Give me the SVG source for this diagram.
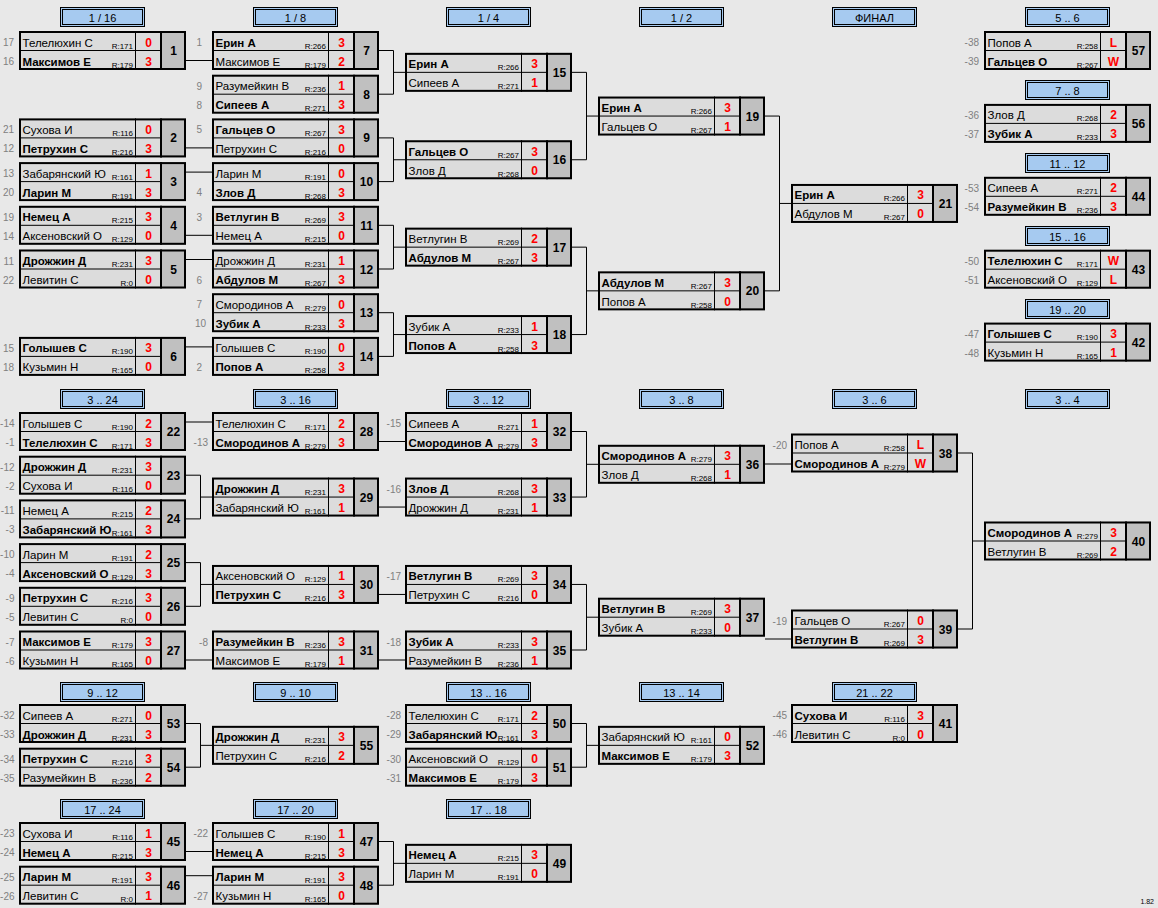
<svg xmlns="http://www.w3.org/2000/svg" xmlns:xlink="http://www.w3.org/1999/xlink" width="1158" height="908" viewBox="0 0 1158 908">
<style>
.n{font-family:"Liberation Sans",Arial,sans-serif;font-size:11.5px;fill:#000}
.b{font-weight:bold}
.r{font-family:"Liberation Sans",Arial,sans-serif;font-size:8px;text-anchor:end;fill:#000}
.s{font-family:"Liberation Sans",Arial,sans-serif;font-size:12px;font-weight:bold;fill:#f00;text-anchor:middle}
.mn{font-family:"Liberation Sans",Arial,sans-serif;font-size:12px;font-weight:bold;fill:#000;text-anchor:middle}
.sd{font-family:"Liberation Sans",Arial,sans-serif;font-size:10px;fill:#808080;text-anchor:end}
.h{font-family:"Liberation Sans",Arial,sans-serif;font-size:11px;fill:#000;text-anchor:middle}
.ver{font-family:"Liberation Sans",Arial,sans-serif;font-size:7px;fill:#000;text-anchor:end}
.cn{fill:none;stroke:#000;stroke-width:1}
</style>
<defs>
<g id="box">
<rect x="0" y="0" width="142" height="39" fill="#dcdcdc"/>
<rect x="142" y="0" width="25" height="39" fill="#c0c0c0"/>
<path d="M0 19.5H142M116.5 0V39" stroke="#000" stroke-width="1" fill="none"/>
<path d="M142 0V39" stroke="#000" stroke-width="2" fill="none"/>
<rect x="1" y="1" width="165" height="37" fill="none" stroke="#000" stroke-width="2"/>
</g>
<g id="hdr">
<rect x="0.5" y="0.5" width="84" height="19" fill="#a6caf0" stroke="#000"/>
<rect x="2.5" y="2.5" width="80" height="15" fill="none" stroke="#000"/>
</g>
</defs>
<rect width="1158" height="908" fill="#e8e8e8"/>

<g id="headers">
<g transform="translate(60,7)"><use href="#hdr"/><text class="h" x="42.5" y="14.5">1 / 16</text></g>
<g transform="translate(253,7)"><use href="#hdr"/><text class="h" x="42.5" y="14.5">1 / 8</text></g>
<g transform="translate(446,7)"><use href="#hdr"/><text class="h" x="42.5" y="14.5">1 / 4</text></g>
<g transform="translate(639,7)"><use href="#hdr"/><text class="h" x="42.5" y="14.5">1 / 2</text></g>
<g transform="translate(832,7)"><use href="#hdr"/><text class="h" x="42.5" y="14.5">ФИНАЛ</text></g>
<g transform="translate(1025,7)"><use href="#hdr"/><text class="h" x="42.5" y="14.5">5 .. 6</text></g>
<g transform="translate(1025,80)"><use href="#hdr"/><text class="h" x="42.5" y="14.5">7 .. 8</text></g>
<g transform="translate(1025,153)"><use href="#hdr"/><text class="h" x="42.5" y="14.5">11 .. 12</text></g>
<g transform="translate(1025,226)"><use href="#hdr"/><text class="h" x="42.5" y="14.5">15 .. 16</text></g>
<g transform="translate(1025,299)"><use href="#hdr"/><text class="h" x="42.5" y="14.5">19 .. 20</text></g>
<g transform="translate(60,389)"><use href="#hdr"/><text class="h" x="42.5" y="14.5">3 .. 24</text></g>
<g transform="translate(253,389)"><use href="#hdr"/><text class="h" x="42.5" y="14.5">3 .. 16</text></g>
<g transform="translate(446,389)"><use href="#hdr"/><text class="h" x="42.5" y="14.5">3 .. 12</text></g>
<g transform="translate(639,389)"><use href="#hdr"/><text class="h" x="42.5" y="14.5">3 .. 8</text></g>
<g transform="translate(832,389)"><use href="#hdr"/><text class="h" x="42.5" y="14.5">3 .. 6</text></g>
<g transform="translate(1025,389)"><use href="#hdr"/><text class="h" x="42.5" y="14.5">3 .. 4</text></g>
<g transform="translate(60,682)"><use href="#hdr"/><text class="h" x="42.5" y="14.5">9 .. 12</text></g>
<g transform="translate(253,682)"><use href="#hdr"/><text class="h" x="42.5" y="14.5">9 .. 10</text></g>
<g transform="translate(446,682)"><use href="#hdr"/><text class="h" x="42.5" y="14.5">13 .. 16</text></g>
<g transform="translate(639,682)"><use href="#hdr"/><text class="h" x="42.5" y="14.5">13 .. 14</text></g>
<g transform="translate(832,682)"><use href="#hdr"/><text class="h" x="42.5" y="14.5">21 .. 22</text></g>
<g transform="translate(60,799)"><use href="#hdr"/><text class="h" x="42.5" y="14.5">17 .. 24</text></g>
<g transform="translate(253,799)"><use href="#hdr"/><text class="h" x="42.5" y="14.5">17 .. 20</text></g>
<g transform="translate(446,799)"><use href="#hdr"/><text class="h" x="42.5" y="14.5">17 .. 18</text></g>
</g>

<g id="connectors" class="cn">
<path d="M186 60.5H212M186 147.9H212M186 172.1H212M186 235.3H212M186 259.5H212M186 346.9H212"/>
<path d="M379 50.5H393.5V94.2H379M393.5 72.35H405"/>
<path d="M379 137.9H393.5V181.6H379M393.5 159.75H405"/>
<path d="M379 225.3H393.5V269H379M393.5 247.15H405"/>
<path d="M379 312.7H393.5V356.4H379M393.5 334.55H405"/>
<path d="M572 72.35H586.5V159.75H572M586.5 116.05H598"/>
<path d="M572 247.15H586.5V334.55H572M586.5 290.85H598"/>
<path d="M765 116.05H779.5V290.85H765M779.5 203.45H791"/>
<path d="M186 422H212M186 660H212"/>
<path d="M186 475.2H200.5V518.9H186M200.5 497.05H212"/>
<path d="M186 562.6H200.5V606.3H186M200.5 584.45H212"/>
<path d="M379 441.5H405M379 507.05H405M379 594.45H405M379 660H405"/>
<path d="M572 431.5H586.5V497.05H572M586.5 464.3H598"/>
<path d="M572 584.45H586.5V650H572M586.5 617.2H598"/>
<path d="M765 464H791"/>
<path d="M765 639H791"/>
<path d="M958 453H972.5V629H958M972.5 541H984"/>
<path d="M186 723.5H200.5V767.2H186M200.5 745.35H212"/>
<path d="M572 723.5H586.5V767.2H572M586.5 745.35H598"/>
<path d="M186 851.5H212M186 875.7H212"/>
<path d="M379 841.5H393.5V885.2H379M393.5 863.35H405"/>
</g>

<g id="m1" transform="translate(19,31)"><use href="#box"/><text class="sd" x="-5" y="15">17</text><text class="sd" x="-5" y="34">16</text><text class="n" x="3.5" y="15.5">Телелюхин С</text><text class="n b" x="3.5" y="34.5">Максимов Е</text><text class="r" x="114" y="17.5">R:171</text><text class="r" x="114" y="36.5">R:179</text><text class="s" x="129.5" y="15.5">0</text><text class="s" x="129.5" y="34.5">3</text><text class="mn" x="154.5" y="24">1</text></g>
<g id="m2" transform="translate(19,118.4)"><use href="#box"/><text class="sd" x="-5" y="15">21</text><text class="sd" x="-5" y="34">12</text><text class="n" x="3.5" y="15.5">Сухова И</text><text class="n b" x="3.5" y="34.5">Петрухин С</text><text class="r" x="114" y="17.5">R:116</text><text class="r" x="114" y="36.5">R:216</text><text class="s" x="129.5" y="15.5">0</text><text class="s" x="129.5" y="34.5">3</text><text class="mn" x="154.5" y="24">2</text></g>
<g id="m3" transform="translate(19,162.1)"><use href="#box"/><text class="sd" x="-5" y="15">13</text><text class="sd" x="-5" y="34">20</text><text class="n" x="3.5" y="15.5">Забарянский Ю</text><text class="n b" x="3.5" y="34.5">Ларин М</text><text class="r" x="114" y="17.5">R:161</text><text class="r" x="114" y="36.5">R:191</text><text class="s" x="129.5" y="15.5">1</text><text class="s" x="129.5" y="34.5">3</text><text class="mn" x="154.5" y="24">3</text></g>
<g id="m4" transform="translate(19,205.8)"><use href="#box"/><text class="sd" x="-5" y="15">19</text><text class="sd" x="-5" y="34">14</text><text class="n b" x="3.5" y="15.5">Немец А</text><text class="n" x="3.5" y="34.5">Аксеновский О</text><text class="r" x="114" y="17.5">R:215</text><text class="r" x="114" y="36.5">R:129</text><text class="s" x="129.5" y="15.5">3</text><text class="s" x="129.5" y="34.5">0</text><text class="mn" x="154.5" y="24">4</text></g>
<g id="m5" transform="translate(19,249.5)"><use href="#box"/><text class="sd" x="-5" y="15">11</text><text class="sd" x="-5" y="34">22</text><text class="n b" x="3.5" y="15.5">Дрожжин Д</text><text class="n" x="3.5" y="34.5">Левитин С</text><text class="r" x="114" y="17.5">R:231</text><text class="r" x="114" y="36.5">R:0</text><text class="s" x="129.5" y="15.5">3</text><text class="s" x="129.5" y="34.5">0</text><text class="mn" x="154.5" y="24">5</text></g>
<g id="m6" transform="translate(19,336.9)"><use href="#box"/><text class="sd" x="-5" y="15">15</text><text class="sd" x="-5" y="34">18</text><text class="n b" x="3.5" y="15.5">Голышев С</text><text class="n" x="3.5" y="34.5">Кузьмин Н</text><text class="r" x="114" y="17.5">R:190</text><text class="r" x="114" y="36.5">R:165</text><text class="s" x="129.5" y="15.5">3</text><text class="s" x="129.5" y="34.5">0</text><text class="mn" x="154.5" y="24">6</text></g>

<g id="m7" transform="translate(212,31)"><use href="#box"/><text class="sd" x="-10" y="15">1</text><text class="n b" x="3.5" y="15.5">Ерин А</text><text class="n" x="3.5" y="34.5">Максимов Е</text><text class="r" x="114" y="17.5">R:266</text><text class="r" x="114" y="36.5">R:179</text><text class="s" x="129.5" y="15.5">3</text><text class="s" x="129.5" y="34.5">2</text><text class="mn" x="154.5" y="24">7</text></g>
<g id="m8" transform="translate(212,74.7)"><use href="#box"/><text class="sd" x="-10" y="15">9</text><text class="sd" x="-10" y="34">8</text><text class="n" x="3.5" y="15.5">Разумейкин В</text><text class="n b" x="3.5" y="34.5">Сипеев А</text><text class="r" x="114" y="17.5">R:236</text><text class="r" x="114" y="36.5">R:271</text><text class="s" x="129.5" y="15.5">1</text><text class="s" x="129.5" y="34.5">3</text><text class="mn" x="154.5" y="24">8</text></g>
<g id="m9" transform="translate(212,118.4)"><use href="#box"/><text class="sd" x="-10" y="15">5</text><text class="n b" x="3.5" y="15.5">Гальцев О</text><text class="n" x="3.5" y="34.5">Петрухин С</text><text class="r" x="114" y="17.5">R:267</text><text class="r" x="114" y="36.5">R:216</text><text class="s" x="129.5" y="15.5">3</text><text class="s" x="129.5" y="34.5">0</text><text class="mn" x="154.5" y="24">9</text></g>
<g id="m10" transform="translate(212,162.1)"><use href="#box"/><text class="sd" x="-10" y="34">4</text><text class="n" x="3.5" y="15.5">Ларин М</text><text class="n b" x="3.5" y="34.5">Злов Д</text><text class="r" x="114" y="17.5">R:191</text><text class="r" x="114" y="36.5">R:268</text><text class="s" x="129.5" y="15.5">0</text><text class="s" x="129.5" y="34.5">3</text><text class="mn" x="154.5" y="24">10</text></g>
<g id="m11" transform="translate(212,205.8)"><use href="#box"/><text class="sd" x="-10" y="15">3</text><text class="n b" x="3.5" y="15.5">Ветлугин В</text><text class="n" x="3.5" y="34.5">Немец А</text><text class="r" x="114" y="17.5">R:269</text><text class="r" x="114" y="36.5">R:215</text><text class="s" x="129.5" y="15.5">3</text><text class="s" x="129.5" y="34.5">0</text><text class="mn" x="154.5" y="24">11</text></g>
<g id="m12" transform="translate(212,249.5)"><use href="#box"/><text class="sd" x="-10" y="34">6</text><text class="n" x="3.5" y="15.5">Дрожжин Д</text><text class="n b" x="3.5" y="34.5">Абдулов М</text><text class="r" x="114" y="17.5">R:231</text><text class="r" x="114" y="36.5">R:267</text><text class="s" x="129.5" y="15.5">1</text><text class="s" x="129.5" y="34.5">3</text><text class="mn" x="154.5" y="24">12</text></g>
<g id="m13" transform="translate(212,293.2)"><use href="#box"/><text class="sd" x="-10" y="15">7</text><text class="sd" x="-6" y="34">10</text><text class="n" x="3.5" y="15.5">Смородинов А</text><text class="n b" x="3.5" y="34.5">Зубик А</text><text class="r" x="114" y="17.5">R:279</text><text class="r" x="114" y="36.5">R:233</text><text class="s" x="129.5" y="15.5">0</text><text class="s" x="129.5" y="34.5">3</text><text class="mn" x="154.5" y="24">13</text></g>
<g id="m14" transform="translate(212,336.9)"><use href="#box"/><text class="sd" x="-10" y="34">2</text><text class="n" x="3.5" y="15.5">Голышев С</text><text class="n b" x="3.5" y="34.5">Попов А</text><text class="r" x="114" y="17.5">R:190</text><text class="r" x="114" y="36.5">R:258</text><text class="s" x="129.5" y="15.5">0</text><text class="s" x="129.5" y="34.5">3</text><text class="mn" x="154.5" y="24">14</text></g>

<g id="m15" transform="translate(405,52.85)"><use href="#box"/><text class="n b" x="3.5" y="15.5">Ерин А</text><text class="n" x="3.5" y="34.5">Сипеев А</text><text class="r" x="114" y="17.5">R:266</text><text class="r" x="114" y="36.5">R:271</text><text class="s" x="129.5" y="15.5">3</text><text class="s" x="129.5" y="34.5">1</text><text class="mn" x="154.5" y="24">15</text></g>
<g id="m16" transform="translate(405,140.25)"><use href="#box"/><text class="n b" x="3.5" y="15.5">Гальцев О</text><text class="n" x="3.5" y="34.5">Злов Д</text><text class="r" x="114" y="17.5">R:267</text><text class="r" x="114" y="36.5">R:268</text><text class="s" x="129.5" y="15.5">3</text><text class="s" x="129.5" y="34.5">0</text><text class="mn" x="154.5" y="24">16</text></g>
<g id="m17" transform="translate(405,227.65)"><use href="#box"/><text class="n" x="3.5" y="15.5">Ветлугин В</text><text class="n b" x="3.5" y="34.5">Абдулов М</text><text class="r" x="114" y="17.5">R:269</text><text class="r" x="114" y="36.5">R:267</text><text class="s" x="129.5" y="15.5">2</text><text class="s" x="129.5" y="34.5">3</text><text class="mn" x="154.5" y="24">17</text></g>
<g id="m18" transform="translate(405,315.05)"><use href="#box"/><text class="n" x="3.5" y="15.5">Зубик А</text><text class="n b" x="3.5" y="34.5">Попов А</text><text class="r" x="114" y="17.5">R:233</text><text class="r" x="114" y="36.5">R:258</text><text class="s" x="129.5" y="15.5">1</text><text class="s" x="129.5" y="34.5">3</text><text class="mn" x="154.5" y="24">18</text></g>
<g id="m19" transform="translate(598,96.55)"><use href="#box"/><text class="n b" x="3.5" y="15.5">Ерин А</text><text class="n" x="3.5" y="34.5">Гальцев О</text><text class="r" x="114" y="17.5">R:266</text><text class="r" x="114" y="36.5">R:267</text><text class="s" x="129.5" y="15.5">3</text><text class="s" x="129.5" y="34.5">1</text><text class="mn" x="154.5" y="24">19</text></g>
<g id="m20" transform="translate(598,271.35)"><use href="#box"/><text class="n b" x="3.5" y="15.5">Абдулов М</text><text class="n" x="3.5" y="34.5">Попов А</text><text class="r" x="114" y="17.5">R:267</text><text class="r" x="114" y="36.5">R:258</text><text class="s" x="129.5" y="15.5">3</text><text class="s" x="129.5" y="34.5">0</text><text class="mn" x="154.5" y="24">20</text></g>
<g id="m21" transform="translate(791,183.95)"><use href="#box"/><text class="n b" x="3.5" y="15.5">Ерин А</text><text class="n" x="3.5" y="34.5">Абдулов М</text><text class="r" x="114" y="17.5">R:266</text><text class="r" x="114" y="36.5">R:267</text><text class="s" x="129.5" y="15.5">3</text><text class="s" x="129.5" y="34.5">0</text><text class="mn" x="154.5" y="24">21</text></g>

<g id="m57" transform="translate(984,31)"><use href="#box"/><text class="sd" x="-5" y="15">-38</text><text class="sd" x="-5" y="34">-39</text><text class="n" x="3.5" y="15.5">Попов А</text><text class="n b" x="3.5" y="34.5">Гальцев О</text><text class="r" x="114" y="17.5">R:258</text><text class="r" x="114" y="36.5">R:267</text><text class="s" x="129.5" y="15.5">L</text><text class="s" x="129.5" y="34.5">W</text><text class="mn" x="154.5" y="24">57</text></g>
<g id="m56" transform="translate(984,103.9)"><use href="#box"/><text class="sd" x="-5" y="15">-36</text><text class="sd" x="-5" y="34">-37</text><text class="n" x="3.5" y="15.5">Злов Д</text><text class="n b" x="3.5" y="34.5">Зубик А</text><text class="r" x="114" y="17.5">R:268</text><text class="r" x="114" y="36.5">R:233</text><text class="s" x="129.5" y="15.5">2</text><text class="s" x="129.5" y="34.5">3</text><text class="mn" x="154.5" y="24">56</text></g>
<g id="m44" transform="translate(984,176.8)"><use href="#box"/><text class="sd" x="-5" y="15">-53</text><text class="sd" x="-5" y="34">-54</text><text class="n" x="3.5" y="15.5">Сипеев А</text><text class="n b" x="3.5" y="34.5">Разумейкин В</text><text class="r" x="114" y="17.5">R:271</text><text class="r" x="114" y="36.5">R:236</text><text class="s" x="129.5" y="15.5">2</text><text class="s" x="129.5" y="34.5">3</text><text class="mn" x="154.5" y="24">44</text></g>
<g id="m43" transform="translate(984,249.7)"><use href="#box"/><text class="sd" x="-5" y="15">-50</text><text class="sd" x="-5" y="34">-51</text><text class="n b" x="3.5" y="15.5">Телелюхин С</text><text class="n" x="3.5" y="34.5">Аксеновский О</text><text class="r" x="114" y="17.5">R:171</text><text class="r" x="114" y="36.5">R:129</text><text class="s" x="129.5" y="15.5">W</text><text class="s" x="129.5" y="34.5">L</text><text class="mn" x="154.5" y="24">43</text></g>
<g id="m42" transform="translate(984,322.6)"><use href="#box"/><text class="sd" x="-5" y="15">-47</text><text class="sd" x="-5" y="34">-48</text><text class="n b" x="3.5" y="15.5">Голышев С</text><text class="n" x="3.5" y="34.5">Кузьмин Н</text><text class="r" x="114" y="17.5">R:190</text><text class="r" x="114" y="36.5">R:165</text><text class="s" x="129.5" y="15.5">3</text><text class="s" x="129.5" y="34.5">1</text><text class="mn" x="154.5" y="24">42</text></g>

<g id="m22" transform="translate(19,412)"><use href="#box"/><text class="sd" x="-4.5" y="15">-14</text><text class="sd" x="-4.5" y="34">-1</text><text class="n" x="3.5" y="15.5">Голышев С</text><text class="n b" x="3.5" y="34.5">Телелюхин С</text><text class="r" x="114" y="17.5">R:190</text><text class="r" x="114" y="36.5">R:171</text><text class="s" x="129.5" y="15.5">2</text><text class="s" x="129.5" y="34.5">3</text><text class="mn" x="154.5" y="24">22</text></g>
<g id="m23" transform="translate(19,455.7)"><use href="#box"/><text class="sd" x="-4.5" y="15">-12</text><text class="sd" x="-4.5" y="34">-2</text><text class="n b" x="3.5" y="15.5">Дрожжин Д</text><text class="n" x="3.5" y="34.5">Сухова И</text><text class="r" x="114" y="17.5">R:231</text><text class="r" x="114" y="36.5">R:116</text><text class="s" x="129.5" y="15.5">3</text><text class="s" x="129.5" y="34.5">0</text><text class="mn" x="154.5" y="24">23</text></g>
<g id="m24" transform="translate(19,499.4)"><use href="#box"/><text class="sd" x="-4.5" y="15">-11</text><text class="sd" x="-4.5" y="34">-3</text><text class="n" x="3.5" y="15.5">Немец А</text><text class="n b" x="3.5" y="34.5">Забарянский Ю</text><text class="r" x="114" y="17.5">R:215</text><text class="r" x="114" y="36.5">R:161</text><text class="s" x="129.5" y="15.5">2</text><text class="s" x="129.5" y="34.5">3</text><text class="mn" x="154.5" y="24">24</text></g>
<g id="m25" transform="translate(19,543.1)"><use href="#box"/><text class="sd" x="-4.5" y="15">-10</text><text class="sd" x="-4.5" y="34">-4</text><text class="n" x="3.5" y="15.5">Ларин М</text><text class="n b" x="3.5" y="34.5">Аксеновский О</text><text class="r" x="114" y="17.5">R:191</text><text class="r" x="114" y="36.5">R:129</text><text class="s" x="129.5" y="15.5">2</text><text class="s" x="129.5" y="34.5">3</text><text class="mn" x="154.5" y="24">25</text></g>
<g id="m26" transform="translate(19,586.8)"><use href="#box"/><text class="sd" x="-4.5" y="15">-9</text><text class="sd" x="-4.5" y="34">-5</text><text class="n b" x="3.5" y="15.5">Петрухин С</text><text class="n" x="3.5" y="34.5">Левитин С</text><text class="r" x="114" y="17.5">R:216</text><text class="r" x="114" y="36.5">R:0</text><text class="s" x="129.5" y="15.5">3</text><text class="s" x="129.5" y="34.5">0</text><text class="mn" x="154.5" y="24">26</text></g>
<g id="m27" transform="translate(19,630.5)"><use href="#box"/><text class="sd" x="-4.5" y="15">-7</text><text class="sd" x="-4.5" y="34">-6</text><text class="n b" x="3.5" y="15.5">Максимов Е</text><text class="n" x="3.5" y="34.5">Кузьмин Н</text><text class="r" x="114" y="17.5">R:179</text><text class="r" x="114" y="36.5">R:165</text><text class="s" x="129.5" y="15.5">3</text><text class="s" x="129.5" y="34.5">0</text><text class="mn" x="154.5" y="24">27</text></g>

<g id="m28" transform="translate(212,412)"><use href="#box"/><text class="sd" x="-4" y="34">-13</text><text class="n" x="3.5" y="15.5">Телелюхин С</text><text class="n b" x="3.5" y="34.5">Смородинов А</text><text class="r" x="114" y="17.5">R:171</text><text class="r" x="114" y="36.5">R:279</text><text class="s" x="129.5" y="15.5">2</text><text class="s" x="129.5" y="34.5">3</text><text class="mn" x="154.5" y="24">28</text></g>
<g id="m29" transform="translate(212,477.55)"><use href="#box"/><text class="n b" x="3.5" y="15.5">Дрожжин Д</text><text class="n" x="3.5" y="34.5">Забарянский Ю</text><text class="r" x="114" y="17.5">R:231</text><text class="r" x="114" y="36.5">R:161</text><text class="s" x="129.5" y="15.5">3</text><text class="s" x="129.5" y="34.5">1</text><text class="mn" x="154.5" y="24">29</text></g>
<g id="m30" transform="translate(212,564.95)"><use href="#box"/><text class="n" x="3.5" y="15.5">Аксеновский О</text><text class="n b" x="3.5" y="34.5">Петрухин С</text><text class="r" x="114" y="17.5">R:129</text><text class="r" x="114" y="36.5">R:216</text><text class="s" x="129.5" y="15.5">1</text><text class="s" x="129.5" y="34.5">3</text><text class="mn" x="154.5" y="24">30</text></g>
<g id="m31" transform="translate(212,630.5)"><use href="#box"/><text class="sd" x="-4" y="15">-8</text><text class="n b" x="3.5" y="15.5">Разумейкин В</text><text class="n" x="3.5" y="34.5">Максимов Е</text><text class="r" x="114" y="17.5">R:236</text><text class="r" x="114" y="36.5">R:179</text><text class="s" x="129.5" y="15.5">3</text><text class="s" x="129.5" y="34.5">1</text><text class="mn" x="154.5" y="24">31</text></g>
<g id="m32" transform="translate(405,412)"><use href="#box"/><text class="sd" x="-4" y="15">-15</text><text class="n" x="3.5" y="15.5">Сипеев А</text><text class="n b" x="3.5" y="34.5">Смородинов А</text><text class="r" x="114" y="17.5">R:271</text><text class="r" x="114" y="36.5">R:279</text><text class="s" x="129.5" y="15.5">1</text><text class="s" x="129.5" y="34.5">3</text><text class="mn" x="154.5" y="24">32</text></g>
<g id="m33" transform="translate(405,477.55)"><use href="#box"/><text class="sd" x="-4" y="15">-16</text><text class="n b" x="3.5" y="15.5">Злов Д</text><text class="n" x="3.5" y="34.5">Дрожжин Д</text><text class="r" x="114" y="17.5">R:268</text><text class="r" x="114" y="36.5">R:231</text><text class="s" x="129.5" y="15.5">3</text><text class="s" x="129.5" y="34.5">1</text><text class="mn" x="154.5" y="24">33</text></g>
<g id="m34" transform="translate(405,564.95)"><use href="#box"/><text class="sd" x="-4" y="15">-17</text><text class="n b" x="3.5" y="15.5">Ветлугин В</text><text class="n" x="3.5" y="34.5">Петрухин С</text><text class="r" x="114" y="17.5">R:269</text><text class="r" x="114" y="36.5">R:216</text><text class="s" x="129.5" y="15.5">3</text><text class="s" x="129.5" y="34.5">0</text><text class="mn" x="154.5" y="24">34</text></g>
<g id="m35" transform="translate(405,630.5)"><use href="#box"/><text class="sd" x="-4" y="15">-18</text><text class="n b" x="3.5" y="15.5">Зубик А</text><text class="n" x="3.5" y="34.5">Разумейкин В</text><text class="r" x="114" y="17.5">R:233</text><text class="r" x="114" y="36.5">R:236</text><text class="s" x="129.5" y="15.5">3</text><text class="s" x="129.5" y="34.5">1</text><text class="mn" x="154.5" y="24">35</text></g>
<g id="m36" transform="translate(598,444.8)"><use href="#box"/><text class="n b" x="3.5" y="15.5">Смородинов А</text><text class="n" x="3.5" y="34.5">Злов Д</text><text class="r" x="114" y="17.5">R:279</text><text class="r" x="114" y="36.5">R:268</text><text class="s" x="129.5" y="15.5">3</text><text class="s" x="129.5" y="34.5">1</text><text class="mn" x="154.5" y="24">36</text></g>
<g id="m37" transform="translate(598,597.7)"><use href="#box"/><text class="n b" x="3.5" y="15.5">Ветлугин В</text><text class="n" x="3.5" y="34.5">Зубик А</text><text class="r" x="114" y="17.5">R:269</text><text class="r" x="114" y="36.5">R:233</text><text class="s" x="129.5" y="15.5">3</text><text class="s" x="129.5" y="34.5">0</text><text class="mn" x="154.5" y="24">37</text></g>
<g id="m38" transform="translate(791,433.5)"><use href="#box"/><text class="sd" x="-4" y="15">-20</text><text class="n" x="3.5" y="15.5">Попов А</text><text class="n b" x="3.5" y="34.5">Смородинов А</text><text class="r" x="114" y="17.5">R:258</text><text class="r" x="114" y="36.5">R:279</text><text class="s" x="129.5" y="15.5">L</text><text class="s" x="129.5" y="34.5">W</text><text class="mn" x="154.5" y="24">38</text></g>
<g id="m39" transform="translate(791,609.5)"><use href="#box"/><text class="sd" x="-4" y="15">-19</text><text class="n" x="3.5" y="15.5">Гальцев О</text><text class="n b" x="3.5" y="34.5">Ветлугин В</text><text class="r" x="114" y="17.5">R:267</text><text class="r" x="114" y="36.5">R:269</text><text class="s" x="129.5" y="15.5">0</text><text class="s" x="129.5" y="34.5">3</text><text class="mn" x="154.5" y="24">39</text></g>
<g id="m40" transform="translate(984,521.5)"><use href="#box"/><text class="n b" x="3.5" y="15.5">Смородинов А</text><text class="n" x="3.5" y="34.5">Ветлугин В</text><text class="r" x="114" y="17.5">R:279</text><text class="r" x="114" y="36.5">R:269</text><text class="s" x="129.5" y="15.5">3</text><text class="s" x="129.5" y="34.5">2</text><text class="mn" x="154.5" y="24">40</text></g>

<g id="m53" transform="translate(19,704)"><use href="#box"/><text class="sd" x="-4.5" y="15">-32</text><text class="sd" x="-4.5" y="34">-33</text><text class="n" x="3.5" y="15.5">Сипеев А</text><text class="n b" x="3.5" y="34.5">Дрожжин Д</text><text class="r" x="114" y="17.5">R:271</text><text class="r" x="114" y="36.5">R:231</text><text class="s" x="129.5" y="15.5">0</text><text class="s" x="129.5" y="34.5">3</text><text class="mn" x="154.5" y="24">53</text></g>
<g id="m54" transform="translate(19,747.7)"><use href="#box"/><text class="sd" x="-4.5" y="15">-34</text><text class="sd" x="-4.5" y="34">-35</text><text class="n b" x="3.5" y="15.5">Петрухин С</text><text class="n" x="3.5" y="34.5">Разумейкин В</text><text class="r" x="114" y="17.5">R:216</text><text class="r" x="114" y="36.5">R:236</text><text class="s" x="129.5" y="15.5">3</text><text class="s" x="129.5" y="34.5">2</text><text class="mn" x="154.5" y="24">54</text></g>
<g id="m55" transform="translate(212,725.85)"><use href="#box"/><text class="n b" x="3.5" y="15.5">Дрожжин Д</text><text class="n" x="3.5" y="34.5">Петрухин С</text><text class="r" x="114" y="17.5">R:231</text><text class="r" x="114" y="36.5">R:216</text><text class="s" x="129.5" y="15.5">3</text><text class="s" x="129.5" y="34.5">2</text><text class="mn" x="154.5" y="24">55</text></g>
<g id="m50" transform="translate(405,704)"><use href="#box"/><text class="sd" x="-4" y="15">-28</text><text class="sd" x="-4" y="34">-29</text><text class="n" x="3.5" y="15.5">Телелюхин С</text><text class="n b" x="3.5" y="34.5">Забарянский Ю</text><text class="r" x="114" y="17.5">R:171</text><text class="r" x="114" y="36.5">R:161</text><text class="s" x="129.5" y="15.5">2</text><text class="s" x="129.5" y="34.5">3</text><text class="mn" x="154.5" y="24">50</text></g>
<g id="m51" transform="translate(405,747.7)"><use href="#box"/><text class="sd" x="-4" y="15">-30</text><text class="sd" x="-4" y="34">-31</text><text class="n" x="3.5" y="15.5">Аксеновский О</text><text class="n b" x="3.5" y="34.5">Максимов Е</text><text class="r" x="114" y="17.5">R:129</text><text class="r" x="114" y="36.5">R:179</text><text class="s" x="129.5" y="15.5">0</text><text class="s" x="129.5" y="34.5">3</text><text class="mn" x="154.5" y="24">51</text></g>
<g id="m52" transform="translate(598,725.85)"><use href="#box"/><text class="n" x="3.5" y="15.5">Забарянский Ю</text><text class="n b" x="3.5" y="34.5">Максимов Е</text><text class="r" x="114" y="17.5">R:161</text><text class="r" x="114" y="36.5">R:179</text><text class="s" x="129.5" y="15.5">0</text><text class="s" x="129.5" y="34.5">3</text><text class="mn" x="154.5" y="24">52</text></g>
<g id="m41" transform="translate(791,704)"><use href="#box"/><text class="sd" x="-4" y="15">-45</text><text class="sd" x="-4" y="34">-46</text><text class="n b" x="3.5" y="15.5">Сухова И</text><text class="n" x="3.5" y="34.5">Левитин С</text><text class="r" x="114" y="17.5">R:116</text><text class="r" x="114" y="36.5">R:0</text><text class="s" x="129.5" y="15.5">3</text><text class="s" x="129.5" y="34.5">0</text><text class="mn" x="154.5" y="24">41</text></g>
<g id="m45" transform="translate(19,822)"><use href="#box"/><text class="sd" x="-4.5" y="15">-23</text><text class="sd" x="-4.5" y="34">-24</text><text class="n" x="3.5" y="15.5">Сухова И</text><text class="n b" x="3.5" y="34.5">Немец А</text><text class="r" x="114" y="17.5">R:116</text><text class="r" x="114" y="36.5">R:215</text><text class="s" x="129.5" y="15.5">1</text><text class="s" x="129.5" y="34.5">3</text><text class="mn" x="154.5" y="24">45</text></g>
<g id="m46" transform="translate(19,865.7)"><use href="#box"/><text class="sd" x="-4.5" y="15">-25</text><text class="sd" x="-4.5" y="34">-26</text><text class="n b" x="3.5" y="15.5">Ларин М</text><text class="n" x="3.5" y="34.5">Левитин С</text><text class="r" x="114" y="17.5">R:191</text><text class="r" x="114" y="36.5">R:0</text><text class="s" x="129.5" y="15.5">3</text><text class="s" x="129.5" y="34.5">1</text><text class="mn" x="154.5" y="24">46</text></g>
<g id="m47" transform="translate(212,822)"><use href="#box"/><text class="sd" x="-4" y="15">-22</text><text class="n" x="3.5" y="15.5">Голышев С</text><text class="n b" x="3.5" y="34.5">Немец А</text><text class="r" x="114" y="17.5">R:190</text><text class="r" x="114" y="36.5">R:215</text><text class="s" x="129.5" y="15.5">1</text><text class="s" x="129.5" y="34.5">3</text><text class="mn" x="154.5" y="24">47</text></g>
<g id="m48" transform="translate(212,865.7)"><use href="#box"/><text class="sd" x="-4" y="34">-27</text><text class="n b" x="3.5" y="15.5">Ларин М</text><text class="n" x="3.5" y="34.5">Кузьмин Н</text><text class="r" x="114" y="17.5">R:191</text><text class="r" x="114" y="36.5">R:165</text><text class="s" x="129.5" y="15.5">3</text><text class="s" x="129.5" y="34.5">0</text><text class="mn" x="154.5" y="24">48</text></g>
<g id="m49" transform="translate(405,843.85)"><use href="#box"/><text class="n b" x="3.5" y="15.5">Немец А</text><text class="n" x="3.5" y="34.5">Ларин М</text><text class="r" x="114" y="17.5">R:215</text><text class="r" x="114" y="36.5">R:191</text><text class="s" x="129.5" y="15.5">3</text><text class="s" x="129.5" y="34.5">0</text><text class="mn" x="154.5" y="24">49</text></g>

<text class="ver" x="1154" y="904">1.82</text>
</svg>
